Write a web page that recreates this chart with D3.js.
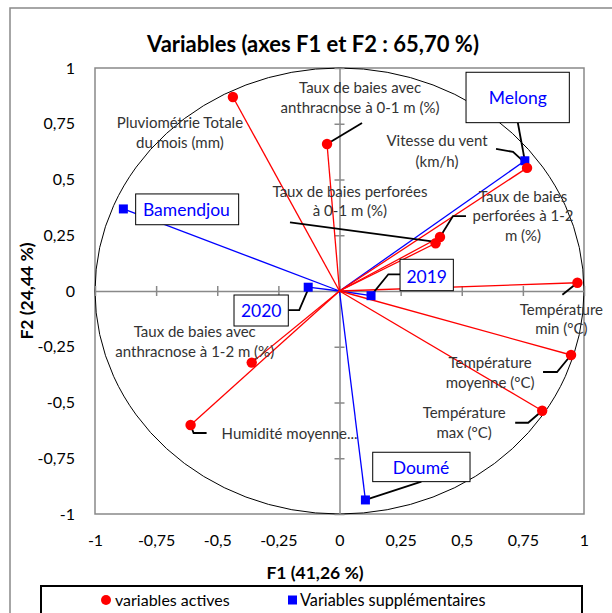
<!DOCTYPE html>
<html><head><meta charset="utf-8">
<script src="https://cdn.jsdelivr.net/npm/d3@7"></script>
<style>body{margin:0;background:#fff}svg{display:block}text{font-family:Lato,"Liberation Sans",sans-serif}</style>
</head><body><svg id="c" width="612" height="613"></svg>
<script>
// ---- data ----
const activeNames = [
  ["Pluviométrie Totale","du mois (mm)"],
  ["Taux de baies avec","anthracnose à 0-1 m (%)"],
  ["Vitesse du vent","(km/h)"],
  ["Taux de baies perforées","à 0-1 m (%)"],
  ["Taux de baies","perforées à 1-2","m (%)"],
  ["Température","min (°C)"],
  ["Température","moyenne (°C)"],
  ["Température","max (°C)"],
  ["Taux de baies avec","anthracnose à 1-2 m (%)"],
  ["Humidité moyenne..."]
];
const activeF1 = [-0.436, -0.051, 0.767, 0.393, 0.411, 0.973, 0.947, 0.829, -0.359, -0.609];
const activeF2 = [0.870, 0.659, 0.552, 0.214, 0.242, 0.037, -0.287, -0.537, -0.321, -0.601];
const supNames = ["Melong","Bamendjou","2020","2019","Doumé"];
const supF1 = [0.758, -0.884, -0.128, 0.129, 0.106];
const supF2 = [0.584, 0.368, 0.017, -0.021, -0.937];
const tickValues = [-1,-0.75,-0.5,-0.25,0,0.25,0.5,0.75,1];
const tickLabels = ["-1","-0,75","-0,5","-0,25","0","0,25","0,5","0,75","1"];
const titleText = "Variables (axes F1 et F2 : 65,70 %)";
const xTitle = "F1 (41,26 %)";
const yTitle = "F2 (24,44 %)";
const legendLabels = ["variables actives","Variables supplémentaires"];

// ---- label layout (pixel offsets relative to each point) ----
const activeLayout = [
  {dx:-53, dy:[26,46], anchor:"middle", leader:null},
  {dx:33, dy:[-56,-36], anchor:"middle", leader:[[35,-21],[0,0]]},
  {dx:-90, dy:[-27,-6], anchor:"middle", leader:[[-31,-19],[-14,-16],[-2,-5]]},
  {dx:-85.6, dy:[-52,-33], anchor:"middle", leader:[[-145.6,-21],[-3.6,-2]]},
  {dx:83, dy:[-40,-21,-1], anchor:"middle", leader:[[26,-21],[13,-21],[0,0]]},
  {dx:-16, dy:[27,46], anchor:"middle", leader:[[-15,12],[0,0]]},
  {dx:-81, dy:[8,28], anchor:"middle", leader:[[-28,17],[-14,17],[0,0]]},
  {dx:-78, dy:[2,22], anchor:"middle", leader:[[-27,12],[-14,12],[0,0]]},
  {dx:-57, dy:[-31,-11], anchor:"middle", leader:[[4,-4],[0,0]]},
  {dx:31, dy:[9], anchor:"start", leader:[[0,0],[3,8],[16,8]]}
];
const supLayout = [
  {box:[-58.8,-88.5,44.5,-38.1], t:[-7,-63], leader:[[-7,-38],[0,0]]},
  {box:[12.3,-15,115.3,15.8], t:[63,1], leader:null},
  {box:[-74.2,7.8,-19.9,38.8], t:[-47,24], leader:[[-20,23],[-9,23],[0,2]]},
  {box:[29,-36.4,82.3,-5], t:[55.7,-19], leader:[[29,-21.4],[17.3,-21.4],[0,0]]},
  {box:[7.3,-47.7,104.6,-18.3], t:[55.6,-31.7], leader:[[56,-18.3],[0,0]]}
];

const svg = d3.select("#c");
const x = d3.scaleLinear().domain([-1,1]).range([95,584]);
const y = d3.scaleLinear().domain([-1,1]).range([514,68]);
const red = "#ff0000", blue = "#0000ff", grey = "#898989";

// outer frame
svg.append("rect").attr("x",10).attr("y",8).attr("width",640).attr("height",640)
  .attr("fill","none").attr("stroke",grey).attr("stroke-width",1.5);

// title
svg.append("text").attr("x",313).attr("y",52).attr("text-anchor","middle")
  .attr("font-size",22).attr("font-weight","bold").attr("fill","#000").text(titleText);

// plot frame
svg.append("rect").attr("x",x(-1)).attr("y",y(1)).attr("width",x(1)-x(-1)).attr("height",y(-1)-y(1))
  .attr("fill","none").attr("stroke",grey).attr("stroke-width",1.5);

// unit circle
svg.append("ellipse").attr("cx",x(0)).attr("cy",y(0)).attr("rx",x(1)-x(0)).attr("ry",y(0)-y(1))
  .attr("fill","none").attr("stroke","#000").attr("stroke-width",1);

// axes through origin with cross ticks
const xAxis = d3.axisBottom(x).tickValues(tickValues).tickSizeInner(5).tickSizeOuter(0).tickFormat("");
const yAxis = d3.axisLeft(y).tickValues(tickValues).tickSizeInner(5).tickSizeOuter(0).tickFormat("");
function styleAxis(g){ g.select(".domain").attr("stroke",grey).attr("stroke-width",1.5);
  g.selectAll(".tick line").attr("stroke",grey).attr("stroke-width",1.5); }
svg.append("g").attr("transform",`translate(0,${y(0)})`).call(xAxis).call(styleAxis);
svg.append("g").attr("transform",`translate(0,${y(0)-5})`).call(xAxis).call(styleAxis).select(".domain").remove();
svg.append("g").attr("transform",`translate(${x(0)},0)`).call(yAxis).call(styleAxis);
svg.append("g").attr("transform",`translate(${x(0)+5},0)`).call(yAxis).call(styleAxis).select(".domain").remove();

// tick labels (outside at left / bottom)
const xl = d3.axisBottom(x).tickValues(tickValues).tickSize(0).tickFormat((d,i)=>tickLabels[i]);
const gx = svg.append("g").attr("transform",`translate(0,${y(-1)+18})`).call(xl);
gx.select(".domain").remove();
gx.selectAll("text").attr("font-size",16).attr("fill","#000").attr("font-family","Lato");
const yl = d3.axisLeft(y).tickValues(tickValues).tickSize(0).tickFormat((d,i)=>tickLabels[i]);
const gy = svg.append("g").attr("transform",`translate(${x(-1)-17},0)`).call(yl);
gy.select(".domain").remove();
gy.selectAll("text").attr("font-size",16).attr("fill","#000").attr("font-family","Lato");

// axis titles
svg.append("text").attr("x",315).attr("y",579).attr("text-anchor","middle")
  .attr("font-size",17.5).attr("font-weight","bold").text(xTitle);
svg.append("text").attr("transform","translate(33,291) rotate(-90)").attr("text-anchor","middle")
  .attr("font-size",17.5).attr("font-weight","bold").text(yTitle);

// vectors
const active = activeF1.map((v,i)=>({x:v,y:activeF2[i],name:activeNames[i],lay:activeLayout[i]}));
const sup = supF1.map((v,i)=>({x:v,y:supF2[i],name:supNames[i],lay:supLayout[i]}));
svg.append("g").selectAll("line").data(sup).join("line")
  .attr("x1",x(0)).attr("y1",y(0)).attr("x2",d=>x(d.x)).attr("y2",d=>y(d.y))
  .attr("stroke",blue).attr("stroke-width",1.3);
svg.append("g").selectAll("line").data(active).join("line")
  .attr("x1",x(0)).attr("y1",y(0)).attr("x2",d=>x(d.x)).attr("y2",d=>y(d.y))
  .attr("stroke",red).attr("stroke-width",1.3);

// leaders
const lineGen = d3.line();
[...active, ...sup].forEach(d=>{
  if(!d.lay.leader) return;
  const px=x(d.x), py=y(d.y);
  svg.append("path").attr("d",lineGen(d.lay.leader.map(p=>[px+p[0],py+p[1]])))
    .attr("fill","none").attr("stroke","#000").attr("stroke-width",1.8);
});

// markers
svg.append("g").selectAll("rect").data(sup).join("rect")
  .attr("x",d=>x(d.x)-4.5).attr("y",d=>y(d.y)-4.5).attr("width",9).attr("height",9).attr("fill",blue);
svg.append("g").selectAll("circle").data(active).join("circle")
  .attr("cx",d=>x(d.x)).attr("cy",d=>y(d.y)).attr("r",5.2).attr("fill",red);

// active labels
active.forEach(d=>{
  const px=x(d.x), py=y(d.y);
  d.name.forEach((line,k)=>{
    svg.append("text").attr("x",px+d.lay.dx).attr("y",py+d.lay.dy[k]).attr("dy","0.35em")
      .attr("text-anchor",d.lay.anchor).attr("font-size",15).attr("fill","#333").text(line);
  });
});
// supplementary labels in boxes
sup.forEach(d=>{
  const px=x(d.x), py=y(d.y), b=d.lay.box;
  svg.append("rect").attr("x",px+b[0]).attr("y",py+b[1]).attr("width",b[2]-b[0]).attr("height",b[3]-b[1])
    .attr("fill","#fff").attr("stroke","#000").attr("stroke-width",1);
  svg.append("text").attr("x",px+d.lay.t[0]).attr("y",py+d.lay.t[1]).attr("dy","0.35em")
    .attr("text-anchor","middle").attr("font-size",17.5).attr("fill",blue).text(d.name);
});

// legend
svg.append("rect").attr("x",41).attr("y",586).attr("width",541).attr("height",40)
  .attr("fill","#fff").attr("stroke","#000").attr("stroke-width",2);
svg.append("circle").attr("cx",106).attr("cy",600).attr("r",5).attr("fill",red);
svg.append("text").attr("x",115).attr("y",600).attr("dy","0.35em").attr("font-size",16).text(legendLabels[0]);
svg.append("rect").attr("x",288).attr("y",595.5).attr("width",9).attr("height",9).attr("fill",blue);
svg.append("text").attr("x",300).attr("y",600).attr("dy","0.35em").attr("font-size",16.3).text(legendLabels[1]);
</script></body></html>
